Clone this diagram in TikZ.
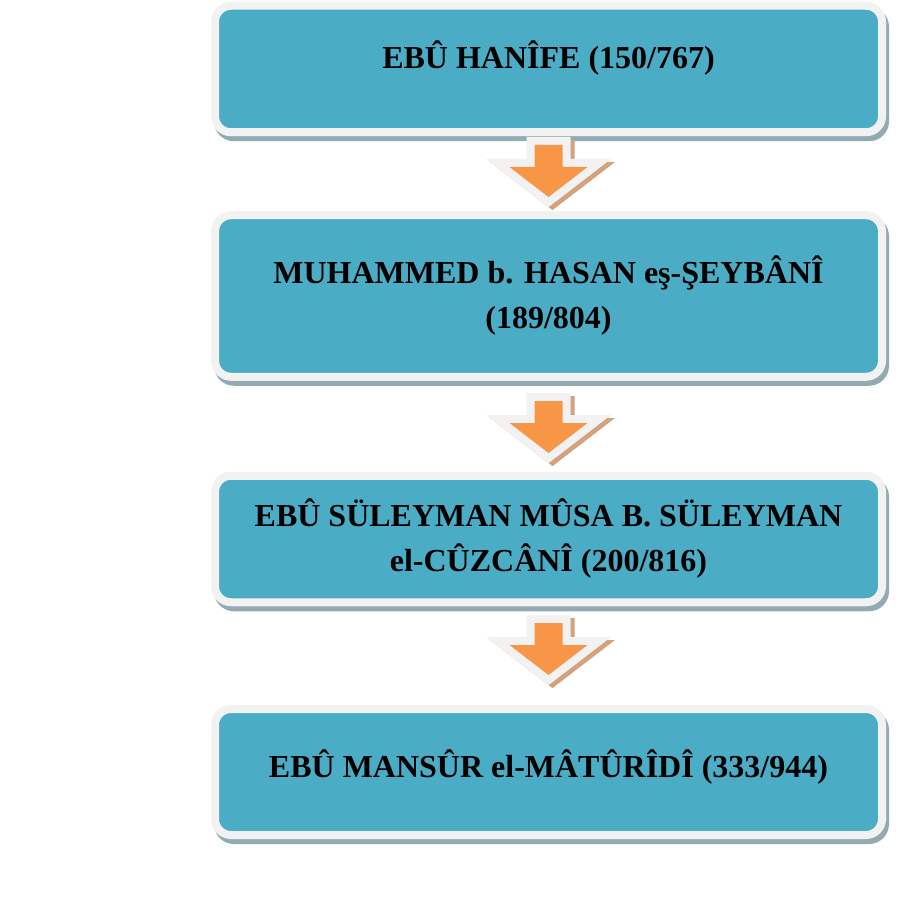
\documentclass[tikz,border=0pt]{standalone}
\usepackage{fontspec}
\setmainfont{Liberation Serif}
\usepackage{tikz}
\usetikzlibrary{positioning, shadows}

\definecolor{boxteal}{RGB}{75,172,198}
\definecolor{rimgray}{RGB}{242,242,242}
\definecolor{boxshade}{RGB}{146,170,178}
\definecolor{arroworange}{RGB}{247,150,70}
\definecolor{arrowshade}{RGB}{212,162,124}

\begin{document}
\begin{tikzpicture}[x=1pt,y=-1pt]
  \tikzstyle{stage}=[rectangle, rounded corners=16pt, draw=rimgray, line width=8pt,
    fill=boxteal, minimum width=667pt, align=center,
    font=\fontsize{32}{45}\selectfont\bfseries,
    drop shadow={shadow xshift=3pt, shadow yshift=-5pt, fill=boxshade,
      draw=boxshade, line width=8pt, opacity=1}]
  \tikzstyle{down}=[fill=arroworange, line join=miter,
    drop shadow={shadow xshift=4pt, shadow yshift=-3pt, fill=arrowshade,
      draw=arrowshade, line width=16pt, opacity=1},
    preaction={draw=rimgray, line width=16pt}]

  \useasboundingbox (0,0) rectangle (915,909);

  \node[stage, minimum height=126.5pt, text depth=29pt] (hanife)  at (548.5,69)
    {EBÛ HANÎFE (150/767)};
  \node[stage, minimum height=161.5pt] (seybani) at (548.5,296)
    {MUHAMMED b. HASAN eş-ŞEYBÂNÎ\\(189/804)};
  \node[stage, minimum height=126.5pt] (cuzcani) at (548.5,539)
    {EBÛ SÜLEYMAN MÛSA B. SÜLEYMAN\\el-CÛZCÂNÎ (200/816)};
  \node[stage, minimum height=126pt, text depth=16pt] (maturidi) at (548.5,772)
    {EBÛ MANSÛR el-MÂTÛRÎDÎ (333/944)};

  % block arrows, tail of each one
  \coordinate (a1) at (548.5,145);
  \coordinate (a2) at (548.5,401);
  \coordinate (a3) at (548.5,623);
  \foreach \a in {a1,a2,a3}
    \fill[down] (\a) ++(-14,0) -- ++(0,22) -- ++(-25,0) -- ++(39,30)
      -- ++(39,-30) -- ++(-25,0) -- ++(0,-22) -- cycle;
\end{tikzpicture}
\end{document}
